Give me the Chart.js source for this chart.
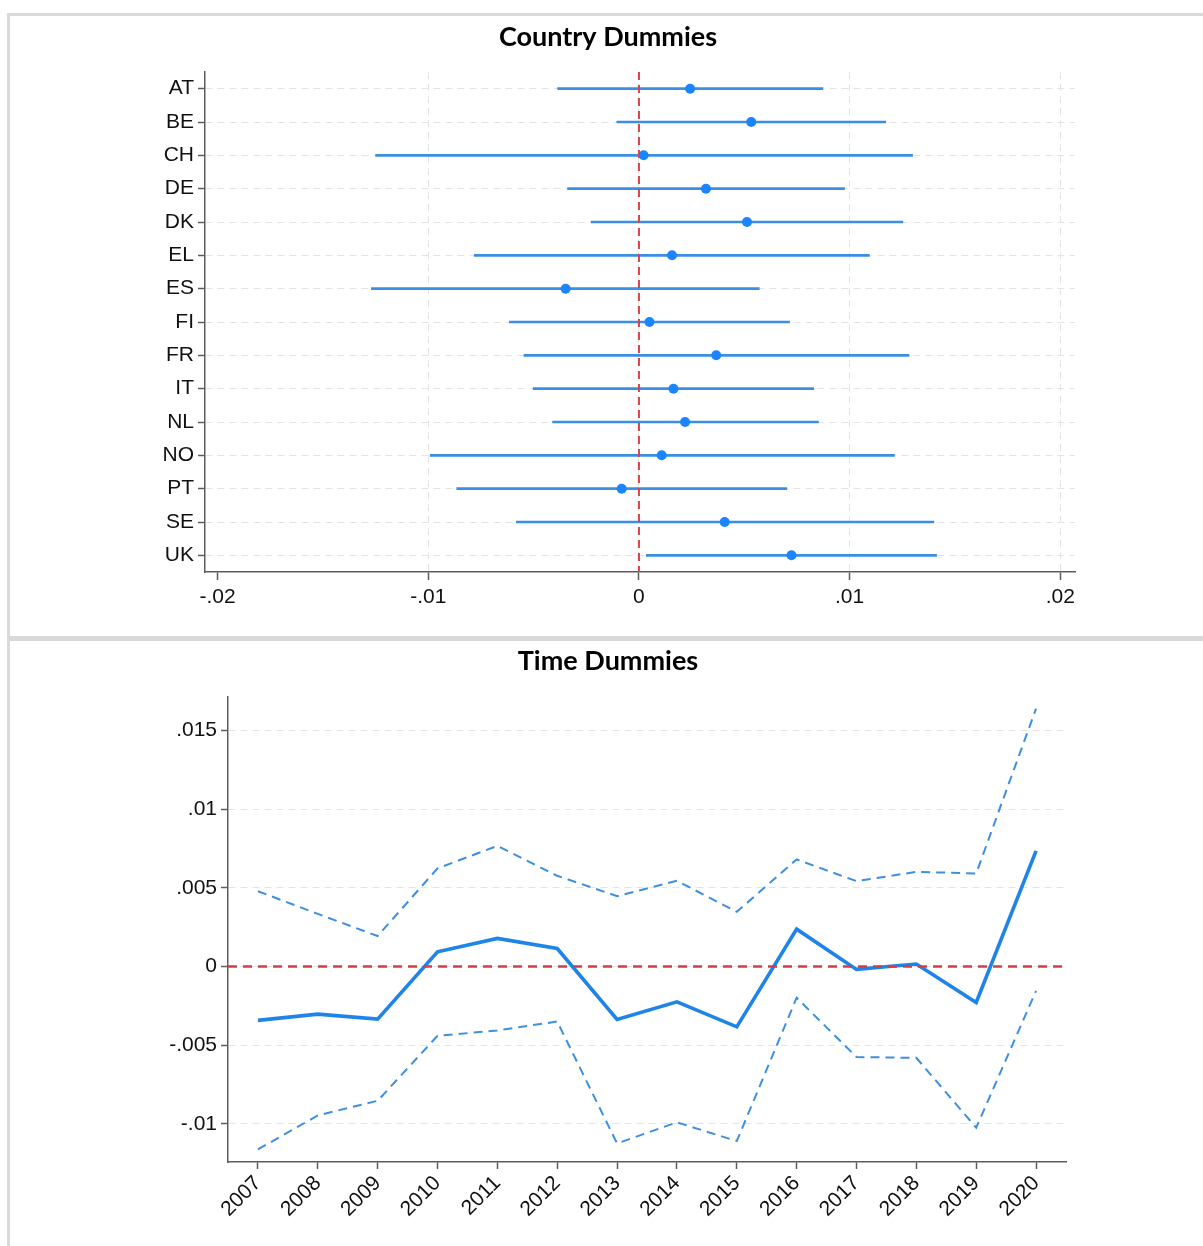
<!DOCTYPE html>
<html>
<head>
<meta charset="utf-8">
<title>Country and Time Dummies</title>
<script src="https://cdn.jsdelivr.net/npm/chart.js@4.4.1/dist/chart.umd.min.js"></script>
<style>
  html, body { margin: 0; padding: 0; background: #fff; overflow: hidden; width: 1203px; height: 1246px; }
  .panel { position: absolute; left: 7px; width: 1196px; border: 3px solid #d9d9d9; background: #fff; }
  #p1 { top: 13px; height: 620px; }
  #p2 { top: 639px; height: 620px; border-top-width: 2px; }
  canvas { display: block; }
</style>
</head>
<body>
<div class="panel" id="p1"><canvas id="countryChart" width="1196" height="620"></canvas></div>
<div class="panel" id="p2"><canvas id="timeChart" width="1196" height="605"></canvas></div>
<script>
// ---- Country dummies: coefficient and 95% CI ----
const countries = ['AT', 'BE', 'CH', 'DE', 'DK', 'EL', 'ES', 'FI', 'FR', 'IT', 'NL', 'NO', 'PT', 'SE', 'UK'];
const countryCoef  = [0.00243, 0.00533, 0.00022, 0.00318, 0.00513, 0.00157, -0.00348, 0.00050, 0.00367, 0.00164, 0.00219, 0.00108, -0.00082, 0.00407, 0.00724];
const countryLower = [-0.00386, -0.00105, -0.01250, -0.00339, -0.00227, -0.00782, -0.01270, -0.00615, -0.00546, -0.00502, -0.00410, -0.00991, -0.00865, -0.00582, 0.00035];
const countryUpper = [0.00873, 0.01171, 0.01299, 0.00976, 0.01253, 0.01094, 0.00571, 0.00715, 0.01282, 0.00830, 0.00852, 0.01213, 0.00702, 0.01400, 0.01413];
const countryTicks = [-0.02, -0.01, 0, 0.01, 0.02];

// ---- Time dummies: coefficient and 95% CI ----
const years = ['2007', '2008', '2009', '2010', '2011', '2012', '2013', '2014', '2015', '2016', '2017', '2018', '2019', '2020'];
const yearCoef  = [-0.00343, -0.00303, -0.00335, 0.00093, 0.00178, 0.00114, -0.00337, -0.00225, -0.00384, 0.00237, -0.00019, 0.00015, -0.00229, 0.00734];
const yearUpper = [0.00478, 0.00334, 0.00193, 0.00623, 0.00766, 0.00576, 0.00447, 0.00544, 0.00347, 0.00680, 0.00542, 0.00601, 0.00591, 0.01639];
const yearLower = [-0.01163, -0.00947, -0.00854, -0.00441, -0.00407, -0.00350, -0.01125, -0.00991, -0.01110, -0.00199, -0.00576, -0.00581, -0.01025, -0.00155];
const yearTicks = [-0.01, -0.005, 0, 0.005, 0.01, 0.015];

const referenceValue = 0;

// Stata-style tick labels: drop the leading zero (".01", "-.005")
function fmt(v) {
  if (Math.abs(v) < 1e-12) return '0';
  return String(+Number(v).toFixed(4)).replace('0.', '.');
}

const AXIS = '#5c5c5c';
const GRID = '#e4e4e4';
const TEXT = '#111111';
const tickFont = { family: "'Liberation Sans', Arial, sans-serif", size: 21 };
const titleFont = { family: "Lato, 'Open Sans', sans-serif", size: 27, weight: 'bold' };

// Dashed reference line at zero, drawn through the chart's own scale
const refLine = {
  id: 'refLine',
  afterDatasetsDraw(chart, args, opts) {
    const { ctx, chartArea } = chart;
    const scale = chart.scales[opts.axis];
    const p = scale.getPixelForValue(opts.value);
    ctx.save();
    ctx.strokeStyle = opts.color;
    ctx.lineWidth = opts.width;
    ctx.setLineDash(opts.dash);
    ctx.beginPath();
    if (opts.axis === 'x') {
      ctx.moveTo(p, chartArea.top);
      ctx.lineTo(p, chartArea.bottom);
    } else {
      ctx.moveTo(chartArea.left, p);
      ctx.lineTo(chartArea.right, p);
    }
    ctx.stroke();
    ctx.restore();
  }
};

Chart.defaults.font.family = tickFont.family;

// ---------- Country Dummies ----------
new Chart(document.getElementById('countryChart'), {
  type: 'bar',
  data: {
    labels: countries,
    datasets: [
      {
        type: 'bar',
        data: countries.map((c, i) => [countryLower[i], countryUpper[i]]),
        backgroundColor: '#3a8ee6',
        borderWidth: 0,
        barThickness: 2,
        order: 2
      },
      {
        type: 'line',
        indexAxis: 'y',
        data: countryCoef,
        showLine: false,
        pointRadius: 5,
        pointHoverRadius: 5,
        pointBackgroundColor: '#1a85ff',
        pointBorderWidth: 0,
        order: 1
      }
    ]
  },
  options: {
    indexAxis: 'y',
    responsive: false,
    animation: false,
    events: [],
    layout: { padding: { left: 131, right: 131, top: 0, bottom: 0 } },
    plugins: {
      legend: { display: false },
      tooltip: { enabled: false },
      title: {
        display: true,
        text: 'Country Dummies',
        color: '#000',
        font: titleFont,
        padding: { top: 5, bottom: 18.6 }
      },
      refLine: { axis: 'x', value: referenceValue, color: '#d6434a', width: 2, dash: [8, 5] }
    },
    scales: {
      x: {
        type: 'linear',
        min: -0.0206,
        max: 0.0207,
        afterBuildTicks: s => { s.ticks = countryTicks.map(v => ({ value: v })); },
        afterFit: s => { s.height = 64; },
        ticks: { callback: v => fmt(v), font: tickFont, color: TEXT, padding: 5, maxRotation: 0 },
        grid: {
          color: c => (c.tick && c.tick.value === countryTicks[0]) ? 'rgba(0,0,0,0)' : GRID,
          lineWidth: 1,
          tickColor: AXIS,
          tickLength: 8,
          tickWidth: 1.5
        },
        border: { color: AXIS, width: 1.5, dash: [7, 5] }
      },
      y: {
        type: 'category',
        offset: true,
        afterFit: s => { s.width = 64; },
        ticks: { font: tickFont, color: TEXT, padding: 4 },
        grid: {
          offset: false,
          color: GRID,
          lineWidth: 1,
          tickColor: AXIS,
          tickLength: 7,
          tickWidth: 1.5
        },
        border: { color: AXIS, width: 1.5, dash: [7, 5] }
      }
    }
  },
  plugins: [refLine]
});

// ---------- Time Dummies ----------
const ciStyle = { borderColor: '#3d8fe0', borderWidth: 2, borderDash: [9, 6], pointRadius: 0, tension: 0, fill: false };

new Chart(document.getElementById('timeChart'), {
  type: 'line',
  data: {
    labels: years,
    datasets: [
      Object.assign({ data: yearUpper }, ciStyle),
      Object.assign({ data: yearLower }, ciStyle),
      { data: yearCoef, borderColor: '#1f84ea', borderWidth: 3.6, pointRadius: 0, tension: 0, fill: false }
    ]
  },
  options: {
    responsive: false,
    animation: false,
    events: [],
    layout: { padding: { left: 140, right: 140, top: 0, bottom: 0 } },
    plugins: {
      legend: { display: false },
      tooltip: { enabled: false },
      title: {
        display: true,
        text: 'Time Dummies',
        color: '#000',
        font: titleFont,
        padding: { top: 4.5, bottom: 19 }
      },
      refLine: { axis: 'y', value: referenceValue, color: '#d03f45', width: 2.6, dash: [9, 6] }
    },
    scales: {
      x: {
        type: 'category',
        offset: true,
        afterFit: s => { s.height = 84; },
        ticks: { font: tickFont, color: TEXT, minRotation: 45, maxRotation: 45, autoSkip: false, padding: 2 },
        grid: {
          offset: false,
          drawOnChartArea: false,
          tickColor: AXIS,
          tickLength: 7,
          tickWidth: 1.5
        },
        border: { color: AXIS, width: 1.5 }
      },
      y: {
        type: 'linear',
        min: -0.01243,
        max: 0.01713,
        afterBuildTicks: s => { s.ticks = yearTicks.map(v => ({ value: v })); },
        afterFit: s => { s.width = 78; },
        ticks: { callback: v => fmt(v), font: tickFont, color: TEXT, padding: 4 },
        grid: {
          color: GRID,
          lineWidth: 1,
          tickColor: AXIS,
          tickLength: 7,
          tickWidth: 1.5
        },
        border: { color: AXIS, width: 1.5, dash: [7, 5] }
      }
    }
  },
  plugins: [refLine]
});
</script>
</body>
</html>
